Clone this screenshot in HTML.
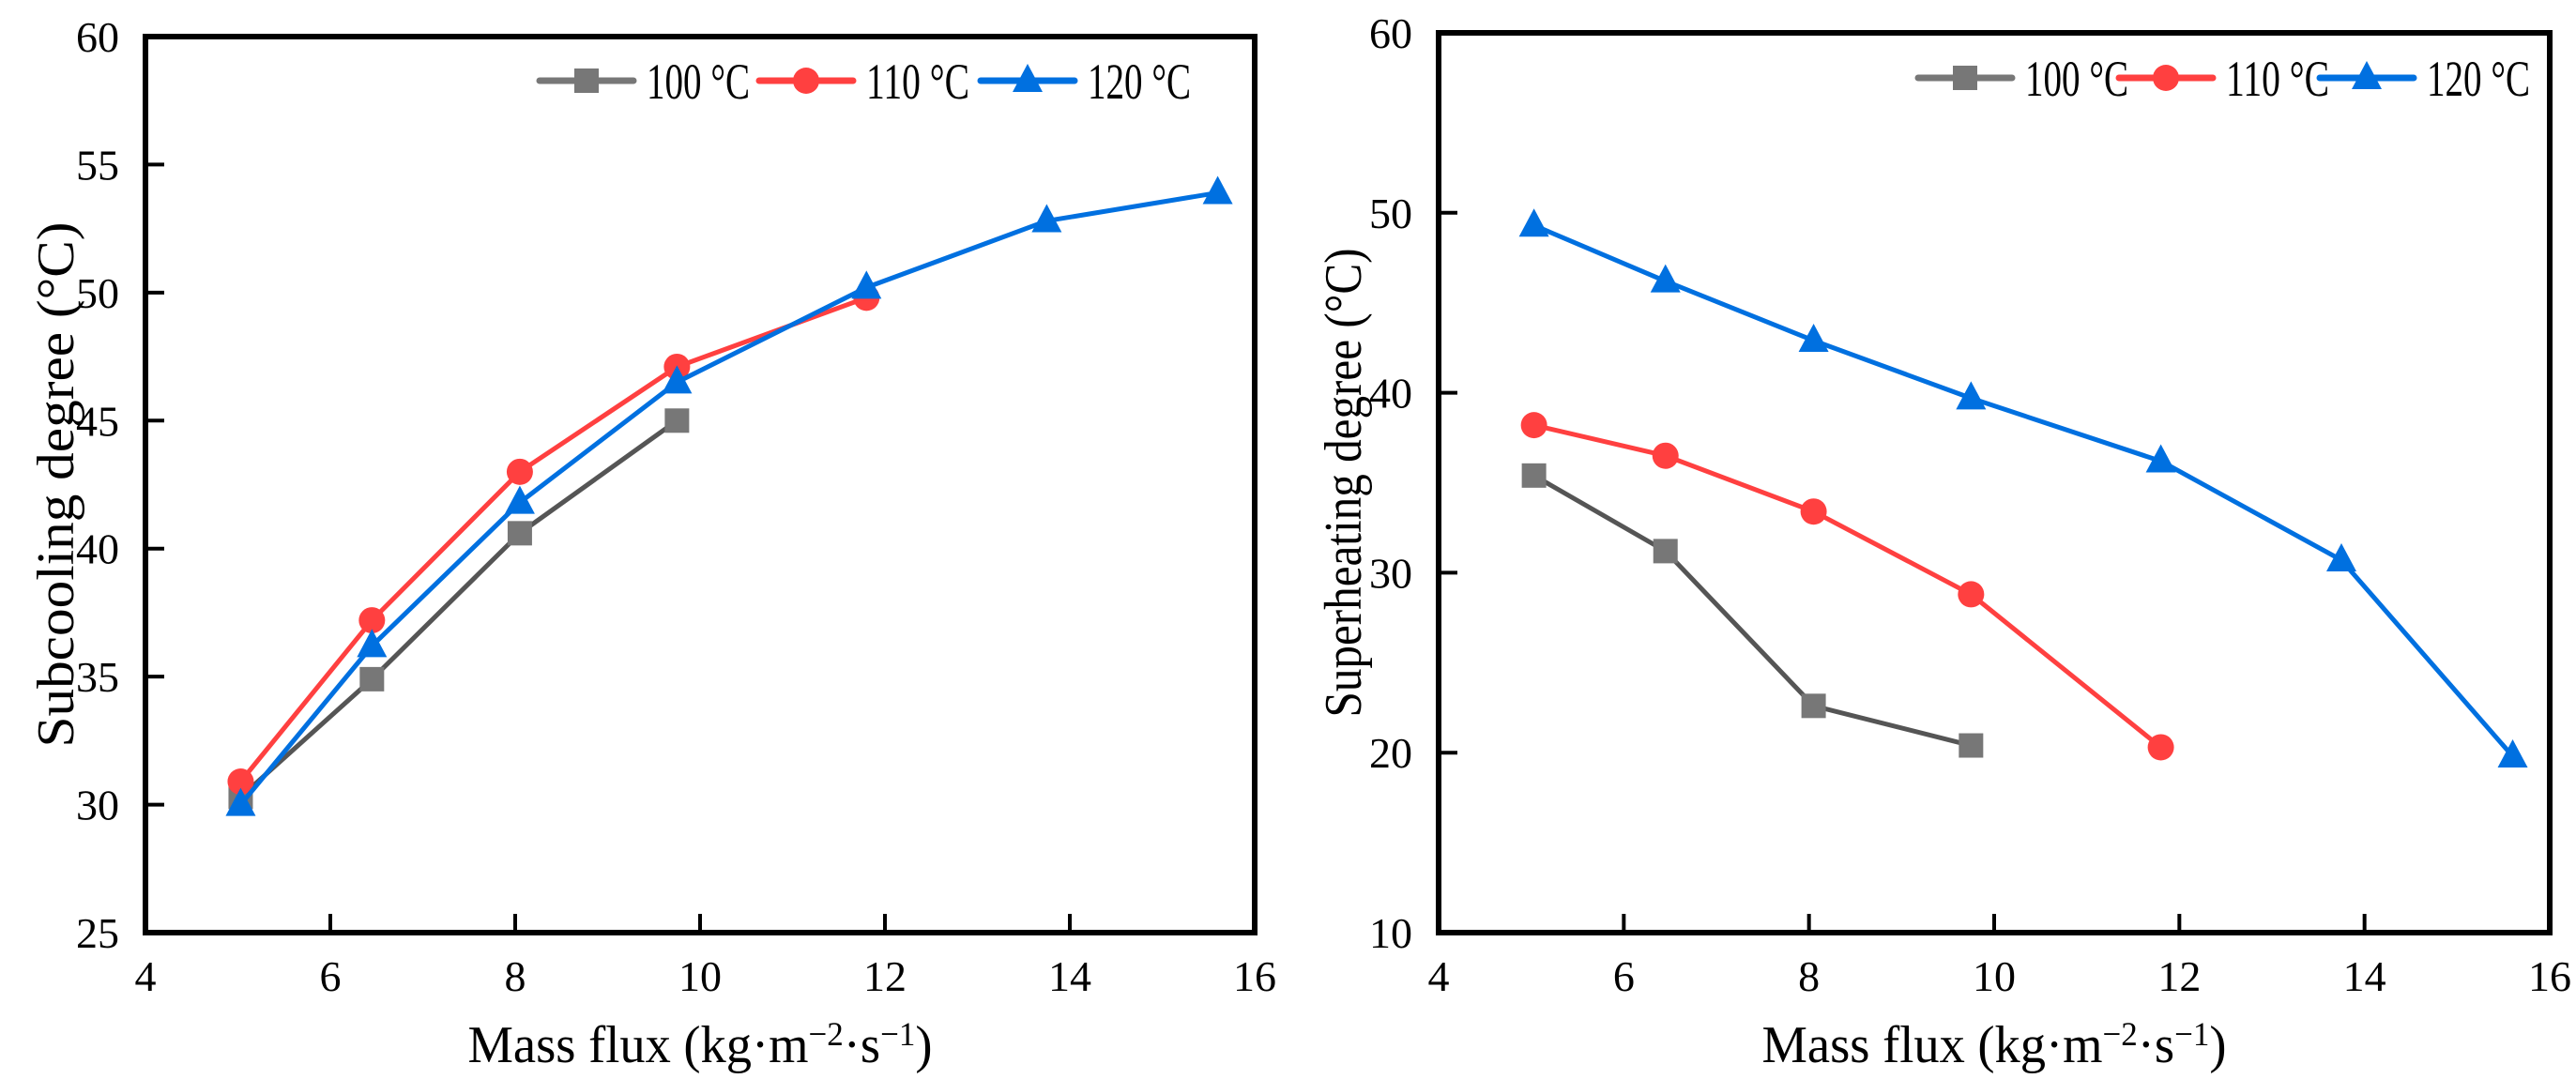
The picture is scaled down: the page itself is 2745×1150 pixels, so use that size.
<!DOCTYPE html>
<html><head><meta charset="utf-8"><style>
html,body{margin:0;padding:0;background:#fff;}
svg{display:block;font-family:"Liberation Serif",serif;}
</style></head><body>
<svg id="chart" width="2745" height="1150" viewBox="0 0 2745 1150" xmlns="http://www.w3.org/2000/svg"></svg>
<script>
const xTicks = [4, 6, 8, 10, 12, 14, 16];
const leftYTicks = [25, 30, 35, 40, 45, 50, 55, 60];
const rightYTicks = [10, 20, 30, 40, 50, 60];
const seriesNames = ["100 °C", "110 °C", "120 °C"];
const leftX100 = [5.03, 6.45, 8.05, 9.75];
const leftY100 = [30.3, 34.9, 40.6, 45.0];
const leftX110 = [5.03, 6.45, 8.05, 9.75, 11.8];
const leftY110 = [30.9, 37.2, 43.0, 47.1, 49.8];
const leftX120 = [5.03, 6.45, 8.05, 9.75, 11.8, 13.75, 15.6];
const leftY120 = [30.0, 36.2, 41.8, 46.5, 50.2, 52.8, 53.9];
const rightX100 = [5.03, 6.45, 8.05, 9.75];
const rightY100 = [35.4, 31.2, 22.6, 20.4];
const rightX110 = [5.03, 6.45, 8.05, 9.75, 11.8];
const rightY110 = [38.2, 36.5, 33.4, 28.8, 20.3];
const rightX120 = [5.03, 6.45, 8.05, 9.75, 11.8, 13.75, 15.6];
const rightY120 = [49.3, 46.2, 42.9, 39.7, 36.2, 30.7, 19.8];

const NS = "http://www.w3.org/2000/svg";
const svg = document.getElementById("chart");
function mk(tag, attrs, parent) {
  const e = document.createElementNS(NS, tag);
  for (const k in attrs) e.setAttribute(k, attrs[k]);
  (parent || svg).appendChild(e);
  return e;
}
const lineColors = ["#555555", "#ff4040", "#0070e0"];
const markColors = ["#777777", "#ff4040", "#0070e0"];

function marker(g, type, cx, cy, color) {
  let m;
  if (type === 0) m = mk("rect", {x: cx - 13, y: cy - 13, width: 26, height: 26, fill: color}, g);
  else if (type === 1) m = mk("circle", {cx: cx, cy: cy, r: 14, fill: color}, g);
  else m = mk("polygon", {points: `${cx},${cy - 18} ${cx - 16},${cy + 12} ${cx + 16},${cy + 12}`, fill: color}, g);
  return m;
}

function panel(cfg) {
  const {x0, x1, y0, y1, ymin, ymax, yTicks, xs, ys, name, ytitle, ytitleX, ytitleLen, legend} = cfg;
  const g = mk("g", {});
  
  
  const sx = v => x0 + (v - 4) / 12 * (x1 - x0);
  const sy = v => y1 - (v - ymin) / (ymax - ymin) * (y1 - y0);
  for (let s = 0; s < 3; s++) {
    const sg = mk("g", {}, g);
    
    
    const pts = xs[s].map((v, i) => sx(v) + "," + sy(ys[s][i])).join(" ");
    const pl = mk("polyline", {points: pts, fill: "none", stroke: lineColors[s], "stroke-width": 5, "stroke-linejoin": "round"}, sg);
    
    
    xs[s].forEach((v, i) => {
      const m = marker(sg, s, sx(v), sy(ys[s][i]), markColors[s]);
      
      
    });
  }
  const fr = mk("rect", {x: x0, y: y0, width: x1 - x0, height: y1 - y0, fill: "none", stroke: "#000", "stroke-width": 6}, g);
  
  
  xTicks.forEach(t => {
    const X = sx(t);
    if (t !== 4 && t !== 16) {
      const tk = mk("line", {x1: X, y1: y1, x2: X, y2: y1 - 20, stroke: "#000", "stroke-width": 4}, g);
      
      
    }
    const lb = mk("text", {x: X, y: y1 + 62, "font-size": 46, "text-anchor": "middle"}, g);
    lb.textContent = t;
    
    
  });
  yTicks.forEach(t => {
    const Y = sy(t);
    if (t !== ymin && t !== ymax) {
      const tk = mk("line", {x1: x0, y1: Y, x2: x0 + 20, y2: Y, stroke: "#000", "stroke-width": 4}, g);
      
      
    }
    const lb = mk("text", {x: x0 - 28, y: Y + 16, "font-size": 46, "text-anchor": "end"}, g);
    lb.textContent = t;
    
    
  });
  const xt = mk("text", {x: (x0 + x1) / 2, y: y1 + 138, "font-size": 56, "text-anchor": "middle", textLength: 495, lengthAdjust: "spacingAndGlyphs"}, g);
  xt.innerHTML = 'Mass flux (kg·m<tspan dy="-18" font-size="36">−2</tspan><tspan dy="18">·s</tspan><tspan dy="-18" font-size="36">−1</tspan><tspan dy="18">)</tspan>';
  
  
  const cy = (y0 + y1) / 2;
  const yt = mk("text", {x: 0, y: 0, "font-size": 56, "text-anchor": "middle", textLength: ytitleLen, lengthAdjust: "spacingAndGlyphs", transform: `translate(${ytitleX},${cy}) rotate(-90)`}, g);
  yt.textContent = ytitle;
  
  
  const lg = mk("g", {}, g);
  
  
  legend.lines.forEach((L, s) => {
    const e = mk("g", {}, lg);
    
    
    mk("line", {x1: L, y1: legend.y, x2: L + 100, y2: legend.y, stroke: markColors[s], "stroke-width": 7, "stroke-linecap": "round"}, e);
    marker(e, s, L + 50, legend.y, markColors[s]);
    const t = mk("text", {x: L + 114, y: legend.y + 19, "font-size": 54, textLength: 110, lengthAdjust: "spacingAndGlyphs"}, e);
    t.textContent = seriesNames[s];
  });
}

panel({x0: 155, x1: 1337, y0: 39, y1: 994, ymin: 25, ymax: 60, yTicks: leftYTicks,
  xs: [leftX100, leftX110, leftX120], ys: [leftY100, leftY110, leftY120],
  name: "subcooling-chart", ytitle: "Subcooling degree (°C)", ytitleX: 78, ytitleLen: 560,
  legend: {y: 86, lines: [575, 809, 1045]}});
panel({x0: 1533, x1: 2717, y0: 35, y1: 994, ymin: 10, ymax: 60, yTicks: rightYTicks,
  xs: [rightX100, rightX110, rightX120], ys: [rightY100, rightY110, rightY120],
  name: "superheating-chart", ytitle: "Superheating degree (°C)", ytitleX: 1450, ytitleLen: 500,
  legend: {y: 83, lines: [2044, 2258, 2472]}});
</script>
</body></html>
